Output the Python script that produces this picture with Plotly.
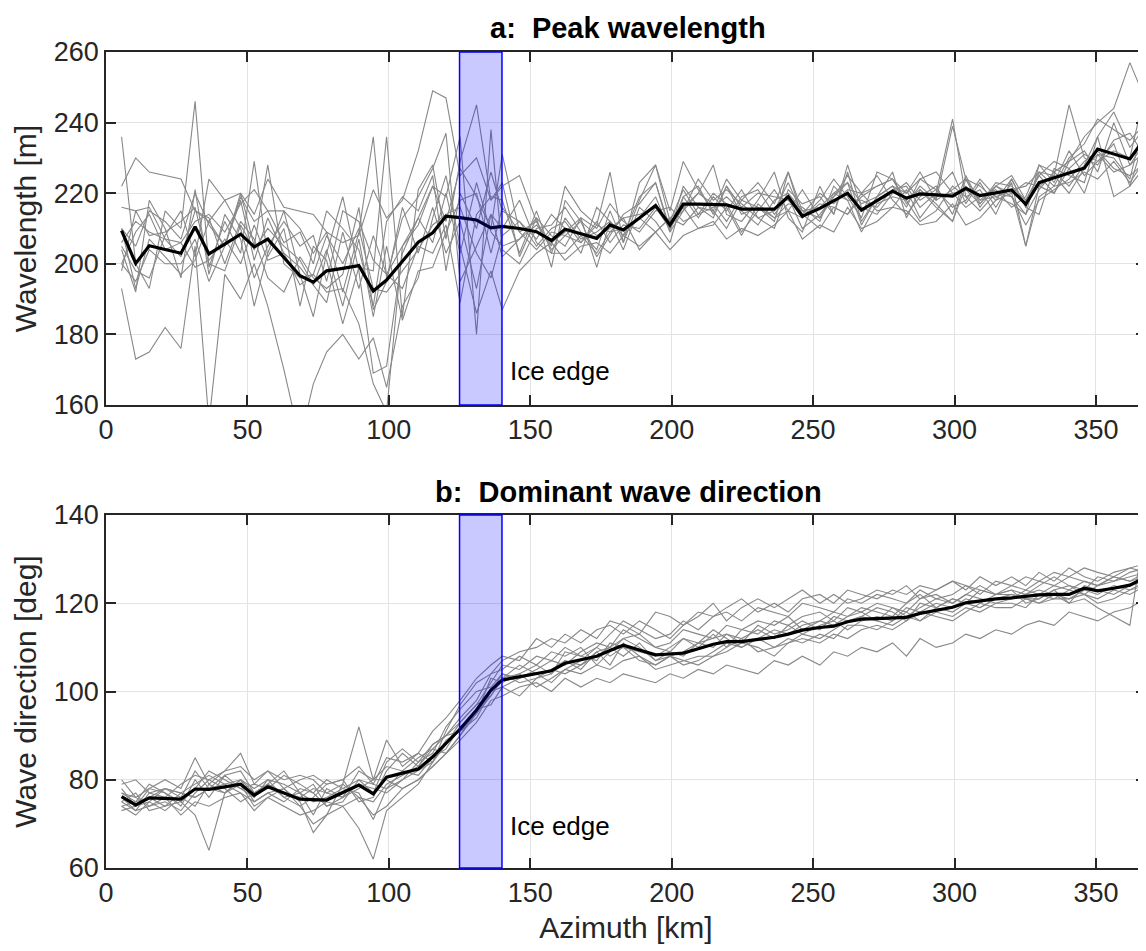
import plotly.graph_objects as go

# Azimuth sample positions [km]
azimuth = [5.5, 10.5, 15.3, 20.9, 26.5, 31.5, 36.4, 42.0, 47.6, 52.4,
           57.2, 62.9, 68.6, 73.3, 78.0, 83.7, 89.4, 94.5, 99.2, 104.8,
           110.4, 115.5, 120.2, 125.2, 131.0, 136.1, 140.1, 146.2, 152.2, 157.5,
           162.3, 167.9, 173.5, 178.2, 182.9, 188.6, 194.3, 199.4, 204.1, 209.4,
           214.7, 219.4, 224.7, 230.5, 236.3, 241.2, 246.2, 252.4, 257.3, 262.2,
           267.1, 272.6, 278.1, 283.0, 287.8, 293.5, 299.3, 304.0, 309.0, 314.6,
           320.2, 325.2, 329.9, 335.2, 340.5, 345.9, 350.6, 356.3, 362.0, 367.7]

# ---- Panel a: peak wavelength [m] ----
wl_mean = [209.4, 200.1, 205.1, 204.0, 203.0, 210.5, 202.8, 205.6, 208.4, 204.8,
           207.0, 201.8, 196.6, 194.8, 198.0, 198.7, 199.5, 192.3, 195.4, 200.7,
           206.1, 208.8, 213.5, 213.1, 212.4, 210.2, 210.6, 210.0, 209.1, 206.6,
           209.8, 208.5, 207.2, 211.0, 209.6, 213.0, 216.5, 211.0, 216.9, 216.9,
           216.9, 216.7, 215.5, 215.5, 215.5, 219.0, 213.5, 215.7, 217.8, 220.0,
           215.2, 217.9, 220.6, 218.6, 219.8, 219.5, 219.2, 221.4, 219.3, 220.1,
           220.9, 216.9, 223.0, 224.4, 225.8, 227.1, 232.5, 231.1, 229.7, 236.0]

wl_1 = [222, 230, 226, 225, 224, 215, 212, 218, 220, 214,
        224, 216, 215, 214, 209, 206, 208, 221, 213, 218,
        232, 249, 247, 225, 230, 218, 222, 225, 212, 205,
        222, 215, 211, 226, 206, 218, 228, 215, 229, 221,
        215, 224, 218, 223, 217, 226, 213, 218, 224, 219,
        213, 226, 224, 217, 222, 218, 239, 224, 222, 218,
        224, 216, 226, 222, 230, 234, 241, 238, 235, 240]
wl_2 = [236, 200, 193, 215, 210, 246, 199, 212, 203, 229,
        202, 210, 188, 205, 201, 183, 199, 198, 236, 185,
        221, 228, 207, 229, 245, 218, 223, 202, 213, 199,
        218, 212, 202, 208, 214, 217, 223, 210, 216, 220,
        228, 214, 212, 218, 226, 213, 209, 222, 214, 226,
        212, 219, 222, 216, 224, 221, 216, 218, 224, 219,
        217, 214, 228, 226, 222, 228, 236, 243, 233, 239]
wl_3 = [210, 205, 215, 212, 207, 220, 211, 205, 219, 212,
        215, 206, 209, 200, 215, 210, 204, 188, 212, 219,
        215, 225, 198, 220, 210, 226, 215, 212, 207, 214,
        210, 203, 216, 212, 208, 219, 223, 209, 215, 220,
        217, 212, 219, 221, 214, 219, 210, 214, 219, 223,
        211, 219, 226, 213, 221, 217, 212, 224, 216, 222,
        219, 214, 221, 226, 229, 232, 226, 240, 228, 235]
wl_4 = [193, 173, 175, 182, 176, 205, 155, 197, 190, 200,
        188, 170, 150, 166, 175, 180, 173, 179, 165, 188,
        196, 213, 225, 205, 186, 198, 187, 198, 203, 206,
        201, 205, 206, 203, 208, 205, 209, 204, 208, 210,
        212, 207, 210, 208, 211, 215, 207, 211, 209, 216,
        210, 212, 216, 215, 211, 212, 217, 211, 213, 218,
        220, 205, 219, 222, 223, 226, 224, 229, 223, 230]
wl_5 = [204, 192, 218, 210, 196, 221, 197, 214, 207, 188,
        203, 215, 197, 185, 203, 219, 198, 169, 171, 203,
        213, 222, 219, 236, 180, 238, 204, 200, 210, 211,
        216, 209, 204, 215, 206, 223, 228, 212, 221, 214,
        220, 217, 209, 215, 221, 215, 221, 213, 219, 225,
        220, 225, 218, 214, 219, 222, 214, 225, 217, 223,
        222, 218, 225, 229, 227, 220, 231, 226, 228, 232]
wl_6 = [216, 215, 216, 207, 206, 212, 214, 209, 217, 221,
        215, 215, 210, 203, 209, 192, 209, 236, 196, 213,
        219, 227, 237, 195, 205, 214, 202, 207, 213, 208,
        205, 213, 210, 217, 212, 209, 215, 216, 212, 214,
        216, 219, 215, 211, 218, 220, 215, 213, 220, 218,
        218, 216, 221, 222, 216, 220, 241, 219, 215, 220,
        219, 211, 218, 221, 224, 229, 232, 227, 225, 229]
wl_7 = [200, 195, 204, 200, 200, 207, 195, 205, 220, 205,
        228, 200, 196, 197, 192, 193, 183, 166, 158, 205,
        211, 222, 212, 227, 219, 210, 231, 209, 204, 209,
        208, 206, 212, 206, 211, 210, 216, 210, 219, 213,
        219, 215, 221, 213, 210, 221, 217, 219, 214, 228,
        216, 214, 220, 223, 218, 221, 226, 217, 223, 216,
        223, 205, 222, 225, 220, 227, 231, 230, 224, 243]
wl_8 = [198, 215, 208, 209, 212, 216, 200, 198, 211, 204,
        210, 205, 201, 194, 189, 209, 193, 208, 197, 193,
        205, 203, 211, 189, 214, 219, 218, 203, 215, 203,
        203, 208, 203, 209, 213, 204, 209, 213, 216, 210,
        211, 216, 208, 217, 213, 215, 213, 217, 216, 214,
        220, 215, 216, 221, 213, 219, 220, 216, 219, 221,
        216, 219, 228, 223, 232, 225, 229, 234, 222, 228]
wl_9 = [206, 212, 209, 207, 202, 215, 213, 200, 212, 207,
        196, 192, 202, 196, 193, 197, 216, 187, 195, 216,
        203, 216, 203, 212, 193, 214, 210, 218, 206, 203,
        213, 207, 209, 212, 204, 216, 212, 206, 219, 222,
        214, 222, 216, 220, 219, 218, 214, 210, 216, 214,
        219, 222, 224, 218, 212, 215, 222, 219, 221, 214,
        224, 216, 214, 227, 225, 223, 236, 219, 222, 237]
wl_10 = [200, 209, 214, 204, 206, 199, 201, 207, 200, 211,
         201, 203, 199, 194, 204, 188, 207, 185, 205, 184,
         198, 199, 209, 218, 220, 203, 216, 209, 212, 204,
         208, 212, 208, 210, 213, 214, 216, 212, 215, 224,
         218, 221, 217, 213, 215, 223, 214, 220, 217, 221,
         220, 222, 224, 220, 226, 218, 221, 224, 218, 222,
         220, 223, 222, 220, 229, 236, 240, 244, 257, 246]
wl_11 = [210, 193, 207, 202, 197, 201, 212, 205, 218, 201,
         213, 203, 194, 197, 208, 200, 210, 193, 192, 198,
         204, 211, 214, 216, 203, 196, 208, 212, 205, 210,
         212, 206, 211, 209, 210, 213, 219, 209, 222, 216,
         215, 210, 218, 216, 213, 217, 216, 212, 222, 218,
         209, 217, 219, 218, 221, 216, 212, 222, 218, 219,
         221, 222, 226, 225, 245, 230, 228, 235, 237, 230]
wl_12 = [205, 198, 196, 208, 215, 202, 224, 218, 210, 196,
         205, 212, 205, 208, 195, 215, 212, 201, 197, 205,
         213, 206, 220, 203, 223, 209, 205, 207, 211, 206,
         209, 213, 199, 212, 208, 213, 209, 213, 211, 216,
         213, 222, 214, 216, 212, 226, 215, 216, 220, 223,
         217, 219, 222, 220, 224, 226, 220, 221, 217, 222,
         225, 218, 225, 220, 227, 231, 229, 232, 230, 250]
wl_tracks = [wl_1, wl_2, wl_3, wl_4, wl_5, wl_6, wl_7, wl_8, wl_9, wl_10, wl_11, wl_12]

# ---- Panel b: dominant wave direction [deg] ----
dir_mean = [76.2, 74.3, 75.9, 75.8, 75.6, 77.9, 77.8, 78.4, 79.0, 76.5,
            78.4, 77.0, 75.6, 75.5, 75.4, 77.1, 78.8, 76.8, 80.6, 81.5,
            82.4, 85.2, 88.3, 91.5, 95.8, 100.3, 102.6, 103.3, 104.0, 104.7,
            106.4, 107.2, 108.0, 109.3, 110.5, 109.4, 108.3, 108.5, 108.7, 109.7,
            110.7, 111.3, 111.3, 111.8, 112.3, 113.0, 113.9, 114.5, 114.8, 115.8,
            116.4, 116.5, 116.6, 116.8, 117.7, 118.4, 119.1, 120.1, 120.5, 121.0,
            121.2, 121.5, 121.9, 122.0, 122.0, 123.4, 122.8, 123.4, 124.1, 126.0]

dir_1 = [79, 80, 77, 76, 79, 81, 80, 82, 83, 80,
         82, 78, 80, 81, 79, 80, 83, 79, 85, 84,
         86, 91, 94, 98, 103, 106, 108, 107, 112, 110,
         113, 111, 114, 115, 113, 116, 114, 112, 115, 117,
         120, 116, 119, 121, 119, 121, 123, 120, 122, 120,
         121, 123, 122, 124, 121, 123, 125, 123, 126, 124,
         126, 124, 127, 125, 128, 126, 125, 127, 128, 127]
dir_2 = [75, 73, 74, 76, 72, 75, 74, 76, 77, 73,
         76, 74, 72, 73, 75, 74, 76, 72, 74, 78,
         80, 83, 86, 89, 93, 98, 99, 101, 102, 100,
         103, 101, 103, 102, 104, 103, 102, 104, 103, 105,
         104, 106, 105, 104, 107, 106, 108, 106, 109, 108,
         110, 109, 111, 108, 112, 110, 111, 113, 112, 114,
         113, 115, 116, 115, 118, 117, 116, 118, 119, 121]
dir_3 = [77, 75, 79, 77, 74, 80, 76, 81, 78, 76,
         80, 79, 77, 72, 78, 76, 82, 80, 83, 82,
         85, 87, 90, 94, 98, 104, 105, 108, 106, 109,
         108, 110, 106, 109, 112, 113, 110, 111, 114, 113,
         112, 115, 114, 113, 116, 115, 117, 118, 116, 119,
         118, 120, 119, 118, 121, 122, 120, 122, 124, 122,
         123, 122, 124, 126, 124, 123, 126, 125, 127, 128]
dir_4 = [74, 72, 75, 73, 76, 74, 79, 77, 80, 75,
         77, 78, 74, 70, 72, 79, 76, 75, 79, 81,
         83, 87, 86, 90, 96, 97, 101, 99, 103, 104,
         107, 106, 109, 110, 108, 111, 107, 109, 112, 110,
         113, 110, 114, 116, 115, 117, 114, 116, 118, 117,
         119, 118, 117, 120, 122, 119, 121, 120, 123, 122,
         122, 121, 121, 123, 120, 121, 119, 117, 115, 139]
dir_5 = [78, 74, 76, 78, 76, 82, 78, 77, 80, 78,
         80, 76, 77, 79, 74, 75, 80, 77, 84, 87,
         84, 86, 92, 96, 100, 101, 104, 103, 105, 107,
         106, 109, 111, 110, 114, 112, 110, 109, 108, 111,
         112, 113, 111, 115, 113, 114, 116, 114, 117, 116,
         117, 119, 118, 116, 120, 119, 121, 120, 119, 121,
         121, 123, 122, 124, 123, 125, 124, 126, 125, 126]
dir_6 = [75, 77, 73, 74, 75, 72, 64, 77, 79, 74,
         76, 78, 75, 68, 72, 74, 69, 62, 73, 76,
         79, 84, 88, 93, 97, 99, 103, 106, 104, 105,
         107, 105, 109, 106, 111, 108, 105, 106, 107, 108,
         108, 110, 112, 109, 110, 112, 111, 113, 112, 115,
         115, 114, 116, 118, 116, 118, 117, 119, 118, 120,
         120, 119, 122, 121, 121, 123, 122, 124, 123, 125]
dir_7 = [80, 76, 78, 80, 78, 85, 79, 82, 86, 79,
         82, 80, 81, 80, 77, 79, 92, 80, 89, 83,
         86, 84, 91, 97, 102, 104, 107, 109, 110, 112,
         111, 114, 112, 116, 115, 113, 118, 117, 115, 118,
         117, 119, 121, 118, 120, 118, 121, 122, 120, 123,
         122, 121, 123, 122, 124, 123, 125, 124, 122, 125,
         124, 126, 125, 127, 126, 128, 127, 126, 128, 129]
dir_8 = [76, 73, 77, 78, 77, 79, 81, 79, 77, 75,
         77, 75, 78, 77, 80, 78, 77, 71, 78, 82,
         81, 85, 87, 92, 95, 99, 103, 104, 101, 103,
         105, 104, 106, 105, 107, 108, 106, 108, 107, 106,
         108, 109, 111, 110, 108, 111, 112, 111, 113, 112,
         114, 115, 114, 116, 118, 117, 116, 118, 120, 119,
         119, 121, 120, 122, 121, 122, 121, 123, 122, 124]
dir_9 = [77, 76, 74, 75, 73, 77, 80, 78, 75, 77,
         79, 76, 74, 76, 79, 80, 75, 76, 82, 86,
         83, 88, 90, 91, 95, 103, 102, 104, 106, 104,
         109, 108, 107, 111, 110, 109, 108, 110, 112, 111,
         110, 113, 112, 114, 112, 115, 113, 115, 116, 114,
         116, 117, 116, 119, 118, 120, 119, 121, 120, 122,
         123, 120, 121, 123, 124, 122, 124, 125, 126, 127]
dir_10 = [74, 75, 76, 74, 77, 76, 78, 81, 82, 77,
          79, 82, 77, 75, 76, 78, 80, 79, 78, 80,
          82, 84, 89, 91, 94, 100, 104, 102, 103, 105,
          104, 106, 108, 110, 112, 110, 107, 108, 109, 111,
          114, 112, 110, 112, 114, 113, 115, 116, 115, 117,
          118, 116, 119, 117, 119, 121, 120, 122, 121, 120,
          121, 122, 123, 122, 120, 124, 123, 122, 124, 125]
dir_11 = [76, 74, 78, 77, 75, 78, 82, 80, 78, 79,
          78, 81, 79, 77, 74, 76, 78, 80, 80, 78,
          80, 83, 86, 90, 95, 100, 101, 103, 104, 102,
          105, 107, 110, 108, 110, 107, 106, 108, 106, 107,
          109, 111, 110, 112, 110, 111, 113, 112, 114, 116,
          117, 116, 115, 117, 116, 119, 118, 120, 119, 121,
          122, 121, 120, 121, 123, 122, 120, 121, 123, 124]
dir_12 = [73, 74, 75, 78, 77, 76, 78, 79, 80, 77,
          79, 77, 76, 78, 77, 76, 79, 78, 77, 80,
          84, 88, 90, 93, 97, 102, 106, 105, 108, 107,
          110, 108, 110, 113, 116, 114, 112, 113, 116, 114,
          117, 118, 116, 119, 118, 117, 120, 119, 118, 121,
          120, 122, 121, 120, 123, 121, 122, 124, 123, 122,
          124, 123, 125, 124, 126, 125, 124, 126, 125, 127]
dir_tracks = [dir_1, dir_2, dir_3, dir_4, dir_5, dir_6, dir_7, dir_8, dir_9, dir_10, dir_11, dir_12]

ice_edge = [125, 140]
x_ticks = [0, 50, 100, 150, 200, 250, 300, 350]
wl_ticks = [160, 180, 200, 220, 240, 260]
dir_ticks = [60, 80, 100, 120, 140]

FONT = "Liberation Sans, Arial, sans-serif"
AX = "#262626"
GRAY = "#888888"

# The page body adds an 8 px offset; figure is sized so the plot lands where the reference has it.
OFF = 8
W, H = 1146 - OFF, 951 - OFF
ML, MT, MB = 106 - OFF, 52 - OFF, 83

fig = go.Figure()

for tr in wl_tracks:
    fig.add_trace(go.Scatter(x=azimuth, y=tr, mode="lines", xaxis="x", yaxis="y",
                             line=dict(color=GRAY, width=1.1), showlegend=False, hoverinfo="skip"))
fig.add_trace(go.Scatter(x=azimuth, y=wl_mean, mode="lines", xaxis="x", yaxis="y",
                         line=dict(color="black", width=3.2), showlegend=False))
for tr in dir_tracks:
    fig.add_trace(go.Scatter(x=azimuth, y=tr, mode="lines", xaxis="x2", yaxis="y2",
                             line=dict(color=GRAY, width=1.1), showlegend=False, hoverinfo="skip"))
fig.add_trace(go.Scatter(x=azimuth, y=dir_mean, mode="lines", xaxis="x2", yaxis="y2",
                         line=dict(color="black", width=3.2), showlegend=False))

axis_common = dict(showline=True, linecolor=AX, linewidth=1.6, mirror="ticks",
                   ticks="inside", ticklen=10, tickwidth=1.6, tickcolor=AX,
                   showgrid=True, gridcolor="#e3e3e3", gridwidth=1, zeroline=False,
                   automargin=False,
                   tickfont=dict(family=FONT, size=27, color=AX))

H_PLOT = H - MT - MB
def py(px):
    # screen pixel y -> paper coordinate
    return (H - MB - (px - OFF)) / H_PLOT

top_dom = [py(405), 1.0]
bot_dom = [0.0, py(515)]

fig.update_layout(
    width=W, height=H,
    paper_bgcolor="white", plot_bgcolor="white",
    margin=dict(l=ML, r=0, t=MT, b=MB, autoexpand=False),
    showlegend=False,
    xaxis=dict(domain=[0, 1], range=[0, 367.7], tickvals=x_ticks, anchor="y", **axis_common),
    yaxis=dict(domain=top_dom, range=[160, 260], tickvals=wl_ticks, anchor="x",
               title=dict(text="Wavelength [m]", font=dict(family=FONT, size=30, color=AX), standoff=8),
               **axis_common),
    xaxis2=dict(domain=[0, 1], range=[0, 367.7], tickvals=x_ticks, anchor="y2",
                title=dict(text="Azimuth [km]", font=dict(family=FONT, size=30, color=AX), standoff=10),
                **axis_common),
    yaxis2=dict(domain=bot_dom, range=[60, 140], tickvals=dir_ticks, anchor="x2",
                title=dict(text="Wave direction [deg]", font=dict(family=FONT, size=30, color=AX), standoff=8),
                **axis_common),
)

for xr, yr in (("x", "y domain"), ("x2", "y2 domain")):
    fig.add_shape(type="rect", xref=xr, yref=yr, x0=ice_edge[0], x1=ice_edge[1], y0=0, y1=1,
                  fillcolor="rgba(0,0,255,0.21)", line=dict(color="#0000ff", width=1.5), layer="above")

fig.add_annotation(x=142, y=169.6, xref="x", yref="y", text="Ice edge", showarrow=False,
                   xanchor="left", yanchor="middle", font=dict(family=FONT, size=26, color="black"))
fig.add_annotation(x=142, y=69.5, xref="x2", yref="y2", text="Ice edge", showarrow=False,
                   xanchor="left", yanchor="middle", font=dict(family=FONT, size=26, color="black"))

fig.add_annotation(x=0.502, y=py(28), xref="paper", yref="paper", yanchor="middle", xanchor="center",
                   text="<b>a:\u00a0 Peak wavelength</b>", showarrow=False,
                   font=dict(family=FONT, size=29, color="black"))
fig.add_annotation(x=0.502, y=py(492), xref="paper", yref="paper", yanchor="middle", xanchor="center",
                   text="<b>b:\u00a0 Dominant wave direction</b>", showarrow=False,
                   font=dict(family=FONT, size=29, color="black"))

fig.write_html("out.html")
